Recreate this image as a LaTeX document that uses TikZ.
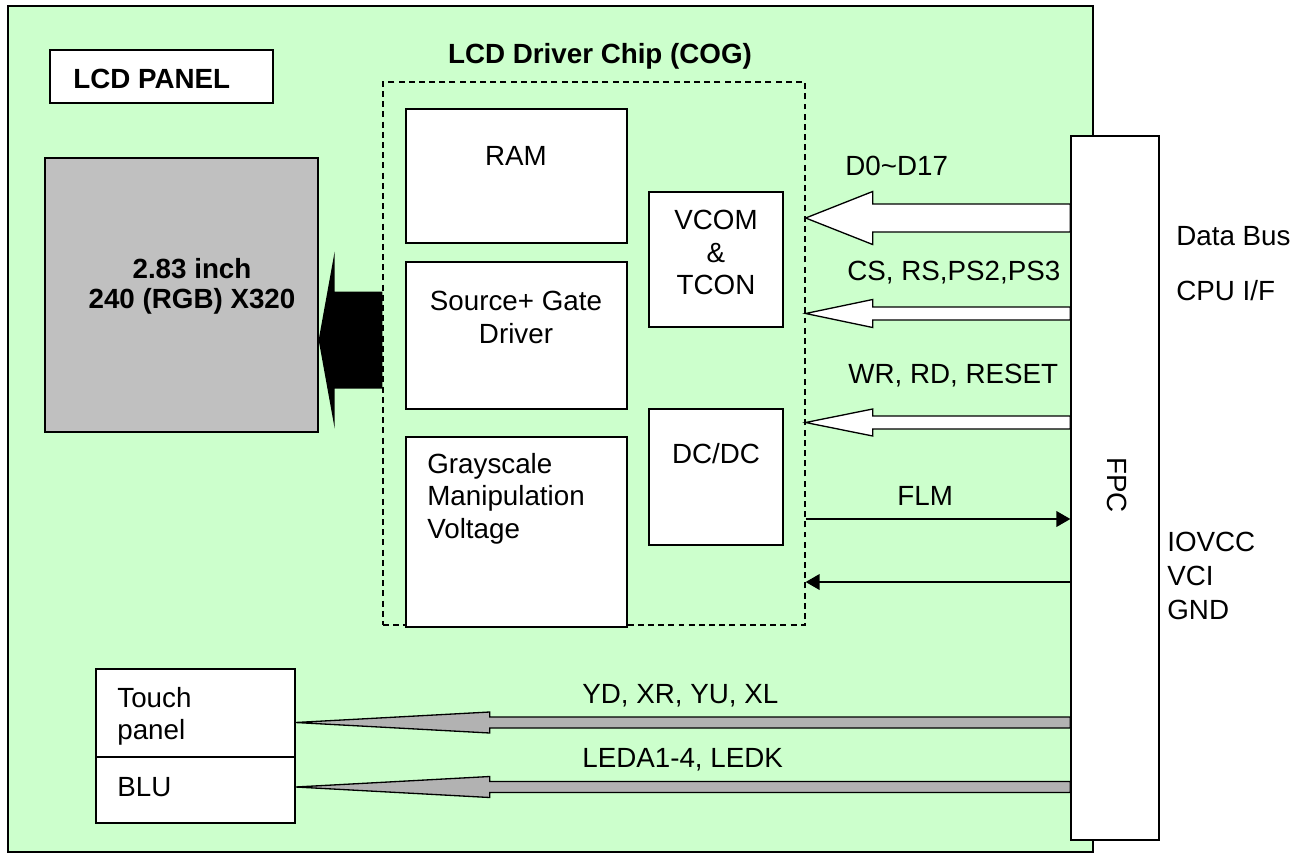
\documentclass[tikz,border=0pt]{standalone}
\usepackage{fontspec}
\setmainfont{Liberation Sans}
\usepackage{xcolor}
\usetikzlibrary{positioning,fit,calc,arrows.meta}

\definecolor{boardgreen}{HTML}{CCFFCC}
\definecolor{panelgray}{HTML}{C0C0C0}
\definecolor{wiregray}{HTML}{B2B2B2}

% wide outlined arrow: style, tail, tip, shaft half, head half, head length
\newcommand{\fatarrow}[6]{%
  \draw[#1] ($(#2)+(0,#4)$) -- ($(#3)+(#6,#4)$) -- ($(#3)+(#6,#5)$) -- (#3)
    -- ($(#3)+(#6,-#5)$) -- ($(#3)+(#6,-#4)$) -- ($(#2)+(0,-#4)$) -- cycle;}

\begin{document}
\begin{tikzpicture}[
    x=0.02cm, y=-0.02cm,
    box/.style={rectangle, draw, line width=0.75pt, fill=white, inner sep=0pt},
    txt/.style={font=\fontsize{15.8}{18.4}\selectfont, inner sep=0pt, align=left},
    bold/.style={font=\fontsize{15.8}{17}\selectfont\bfseries, inner sep=0pt, align=center},
    whitearrow/.style={draw, fill=white, line width=0.75pt, line join=miter},
    grayarrow/.style={draw, fill=wiregray, line width=0.75pt, line join=miter},
    signal/.style={-{Triangle[length=8pt, width=9pt]}, line width=0.85pt}
]
    \useasboundingbox (0,0) rectangle (1309,859);

    % board
    \node[draw, fill=boardgreen, line width=1pt, inner sep=0pt, fit={(8,6) (1093,852)}] (board) {};
    \node[box, fit={(50,50) (273,103)}] (paneltag) {};
    \node[txt, font=\fontsize{15.8}{18.4}\selectfont\bfseries, anchor=base west] (paneltag_label) at (73,88) {LCD PANEL};

    % glass
    \node[box, fill=panelgray, fit={(45,158) (318,432)}] (glass) {};
    \node[bold, anchor=north] (glass_label) at (192,258) {2.83 inch\\240 (RGB) X320};

    % driver chip
    \node[draw, dashed, dash pattern=on 3.4pt off 2.4pt, line width=0.75pt, inner sep=0pt, fit={(383,82) (805,625)}] (chip) {};
    \node[bold, anchor=base] (chip_label) at (600,63) {LCD Driver Chip (COG)};

    \node[box, fit={(406,109) (627,243)}] (ram) {};
    \node[txt, anchor=base] (ram_label) at (516,165) {RAM};
    \node[box, fit={(406,262) (627,409)}] (source) {};
    \node[txt, anchor=north, align=center] (source_label) at (516,291) {Source+ Gate\\Driver};
    \node[box, fit={(406,437) (627,627)}] (gray) {};
    \node[txt, anchor=north west] (gray_label) at (427,453) {Grayscale\\Manipulation\\Voltage};
    \node[box, fit={(649,192) (783,327)}] (vcom) {};
    \node[txt, anchor=north, align=center] (vcom_label) at (716,210) {VCOM\\\&\\TCON};
    \node[box, fit={(649,409) (783,545)}] (dcdc) {};
    \node[txt, anchor=base] (dcdc_label) at (716,463) {DC/DC};

    % touch panel and backlight
    \node[box, fit={(96,669) (295,757)}] (touch) {};
    \node[txt, anchor=north west] (touch_label) at (117,687) {Touch\\panel};
    \node[box, fit={(96,757) (295,823)}] (blu) {};
    \node[txt, anchor=base west] (blu_label) at (117,796) {BLU};

    % flex connector
    \node[box, fit={(1071,136) (1159,840)}] (fpc) {};
    \node[txt, rotate=-90] (fpc_label) at (1117,485) {FPC};

    % panel drive
    \coordinate (drive_tail) at (chip.west |- 0,340);
    \coordinate (drive_tip) at (glass.east |- 0,340);
    \fatarrow{fill=black, draw=none}{drive_tail}{drive_tip}{48.5}{88.5}{16}

    % cpu interface
    \coordinate (d0_tail) at (fpc.west |- 0,218);
    \coordinate (d0_tip) at (chip.east |- 0,218);
    \fatarrow{whitearrow}{d0_tail}{d0_tip}{14}{26.5}{67}
    \node[txt, anchor=base west] (d0_label) at (845,175) {D0\textasciitilde D17};

    \coordinate (cs_tail) at (fpc.west |- 0,313.5);
    \coordinate (cs_tip) at (chip.east |- 0,313.5);
    \fatarrow{whitearrow}{cs_tail}{cs_tip}{6.5}{14}{67}
    \node[txt, anchor=base west] (cs_label) at (847,280) {CS, RS,PS2,PS3};

    \coordinate (wr_tail) at (fpc.west |- 0,422.5);
    \coordinate (wr_tip) at (chip.east |- 0,422.5);
    \fatarrow{whitearrow}{wr_tail}{wr_tip}{6.5}{13.5}{67}
    \node[txt, anchor=base west] (wr_label) at (848,383) {WR, RD, RESET};

    \draw[signal] (chip.east |- 0,519) -- (fpc.west |- 0,519);
    \node[txt, anchor=base west] (flm_label) at (897,505) {FLM};
    \draw[signal] (fpc.west |- 0,582) -- (chip.east |- 0,582);

    % touch and backlight wires
    \coordinate (yd_tail) at (fpc.west |- 0,722.5);
    \coordinate (yd_tip) at (touch.east |- 0,722.5);
    \fatarrow{grayarrow}{yd_tail}{yd_tip}{5.5}{10.5}{194}
    \node[txt, anchor=base west] (yd_label) at (582,703) {YD, XR, YU, XL};

    \coordinate (led_tail) at (fpc.west |- 0,787);
    \coordinate (led_tip) at (blu.east |- 0,787);
    \fatarrow{grayarrow}{led_tail}{led_tip}{5.5}{10.5}{194}
    \node[txt, anchor=base west] (led_label) at (582,767) {LEDA1-4, LEDK};

    % outside labels
    \node[txt, anchor=base west] (bus_label) at (1176,245) {Data Bus};
    \node[txt, anchor=base west] (cpu_label) at (1176,300) {CPU I/F};
    \node[txt, font=\fontsize{15.8}{19.3}\selectfont, anchor=north west] (power_label) at (1167,532) {IOVCC\\VCI\\GND};
\end{tikzpicture}
\end{document}
